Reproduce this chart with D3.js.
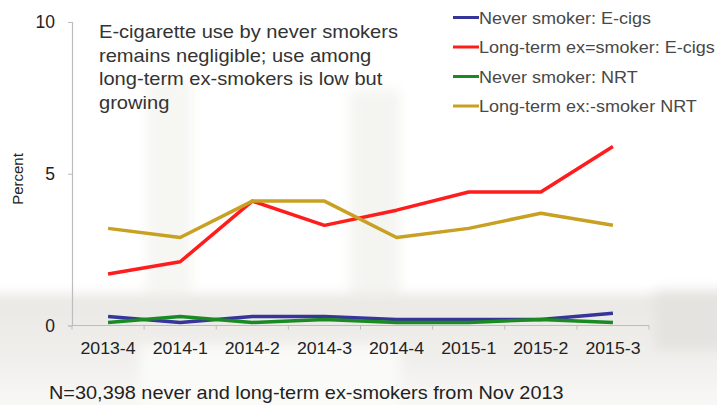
<!DOCTYPE html>
<html>
<head>
<meta charset="utf-8">
<script src="https://cdn.jsdelivr.net/npm/d3@7"></script>
<style>
  html, body { margin: 0; padding: 0; background: #ffffff; }
  svg { display: block; font-family: "Liberation Sans", Arial, sans-serif; }
</style>
</head>
<body>
<svg id="chart" width="717" height="405"></svg>
<script>
// Quarters surveyed
const quarters = ["2013-4", "2014-1", "2014-2", "2014-3", "2014-4", "2015-1", "2015-2", "2015-3"];

// Percent using each product, by quarter
const neverEcig   = [0.3, 0.1, 0.3, 0.3, 0.2, 0.2, 0.2, 0.4];
const exEcig      = [1.7, 2.1, 4.1, 3.3, 3.8, 4.4, 4.4, 5.9];
const neverNrt    = [0.1, 0.3, 0.1, 0.2, 0.1, 0.1, 0.2, 0.1];
const exNrt       = [3.2, 2.9, 4.1, 4.1, 2.9, 3.2, 3.7, 3.3];

const seriesNames = [
  "Never smoker: E-cigs",
  "Long-term ex=smoker: E-cigs",
  "Never smoker: NRT",
  "Long-term ex:-smoker NRT"
];
const seriesColors = ["#35359a", "#ff1c1c", "#1a8a22", "#c8a022"];
const yTicks = [0, 5, 10];

const titleLines = [
  "E-cigarette use by never smokers",
  "remains negligible; use among",
  "long-term ex-smokers is low but",
  "growing"
];
const footnote = "N=30,398 never and long-term ex-smokers from Nov 2013";

const series = [neverEcig, exEcig, neverNrt, exNrt].map((values, i) => ({
  name: seriesNames[i], color: seriesColors[i], values
}));

const svg = d3.select("#chart");
const margin = { left: 72, right: 68, top: 22, bottom: 79.5 };
const W = 717, H = 405;

// Soft photographic backdrop
const defs = svg.append("defs");
defs.append("filter").attr("id", "soft").append("feGaussianBlur").attr("stdDeviation", 6);
const band = defs.append("linearGradient").attr("id", "band").attr("x1", 0).attr("y1", 0).attr("x2", 0).attr("y2", 1);
band.append("stop").attr("offset", "0%").attr("stop-color", "#e9e8e4");
band.append("stop").attr("offset", "45%").attr("stop-color", "#efeeeb");
band.append("stop").attr("offset", "100%").attr("stop-color", "#fbfbfa");
const bg = svg.append("g").attr("filter", "url(#soft)");
bg.append("rect").attr("x", -20).attr("y", 294).attr("width", 760).attr("height", 130).attr("fill", "url(#band)");
bg.append("rect").attr("x", 146).attr("y", 80).attr("width", 46).attr("height", 215).attr("fill", "#f6f6f3");
bg.append("rect").attr("x", 350).attr("y", 90).attr("width", 50).attr("height", 205).attr("fill", "#f4f4f1");
bg.append("rect").attr("x", 655).attr("y", 290).attr("width", 80).attr("height", 60).attr("fill", "#e4e3df");
bg.append("rect").attr("x", 140).attr("y", 345).attr("width", 260).attr("height", 70).attr("fill", "#fafaf8");

const x = d3.scaleBand().domain(quarters).range([margin.left, W - margin.right]);
const y = d3.scaleLinear().domain([0, 10]).range([H - margin.bottom, margin.top]);

// Y axis
const yAxis = svg.append("g")
  .attr("transform", `translate(${margin.left},0)`)
  .call(d3.axisLeft(y).tickValues(yTicks).tickSize(4).tickPadding(13));
yAxis.select(".domain").attr("stroke", "#bdbdbd").attr("stroke-width", 1.2);
yAxis.selectAll(".tick line").attr("stroke", "#bdbdbd");
yAxis.selectAll(".tick text").attr("font-size", 17.5).attr("fill", "#222");

// X axis with ticks on category boundaries
const xAxisG = svg.append("g").attr("transform", `translate(0,${y(0)})`);
xAxisG.append("line")
  .attr("x1", margin.left).attr("x2", W - margin.right)
  .attr("stroke", "#bdbdbd").attr("stroke-width", 1.2);
xAxisG.selectAll("line.tk")
  .data(quarters.concat(["end"]))
  .join("line").attr("class", "tk")
  .attr("x1", (d, i) => margin.left + i * x.step())
  .attr("x2", (d, i) => margin.left + i * x.step())
  .attr("y1", 0).attr("y2", 4)
  .attr("stroke", "#bdbdbd");
xAxisG.selectAll("text")
  .data(quarters)
  .join("text")
  .attr("transform", d => `translate(${x(d) + x.bandwidth() / 2},28) scale(1.08,1)`)
  .attr("text-anchor", "middle")
  .attr("font-size", 16.4)
  .attr("fill", "#222")
  .text(d => d);

// Y axis title
svg.append("text")
  .attr("transform", `translate(23,179) rotate(-90)`)
  .attr("text-anchor", "middle")
  .attr("font-size", 15)
  .attr("fill", "#222")
  .text("Percent");

// Series lines
const line = d3.line()
  .x((d, i) => x(quarters[i]) + x.bandwidth() / 2)
  .y(d => y(d));
svg.append("g").selectAll("path")
  .data(series)
  .join("path")
  .attr("d", d => line(d.values))
  .attr("fill", "none")
  .attr("stroke", d => d.color)
  .attr("stroke-width", 3.5)
  .attr("stroke-linejoin", "round");

// Annotation
svg.append("g")
  .attr("transform", "translate(99,0) scale(1.08,1)")
  .append("text")
  .attr("font-size", 18.6)
  .attr("fill", "#333")
  .selectAll("tspan")
  .data(titleLines)
  .join("tspan")
  .attr("x", 0)
  .attr("y", (d, i) => 38.5 + i * 23.5)
  .text(d => d);

// Legend
const leg = svg.append("g").selectAll("g")
  .data(series)
  .join("g")
  .attr("transform", (d, i) => `translate(453,${17.5 + i * 29.5})`);
leg.append("line")
  .attr("x1", 0).attr("x2", 26)
  .attr("stroke", d => d.color).attr("stroke-width", 3);
leg.append("text")
  .attr("transform", "translate(26,6.3) scale(1.14,1)")
  .attr("font-size", 15.8)
  .attr("fill", "#484848")
  .text(d => d.name);

// Footnote
svg.append("text")
  .attr("transform", "translate(49,399) scale(1.07,1)")
  .attr("font-size", 18.6)
  .attr("fill", "#222")
  .text(footnote);
</script>
</body>
</html>
